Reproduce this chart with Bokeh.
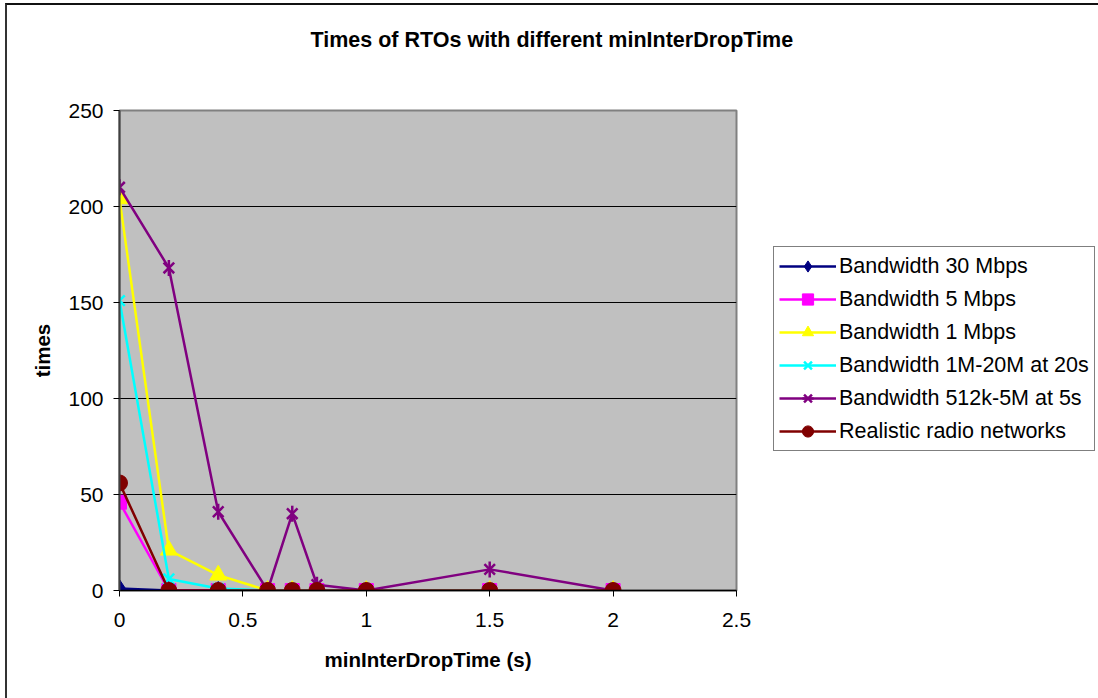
from bokeh.plotting import figure
from bokeh.models import (FixedTicker, NumeralTickFormatter, Legend, LegendItem,
                          Title, Range1d)
from bokeh.embed import file_html
from bokeh.resources import INLINE
import math

# minInterDropTime settings (s)
drop_time = [0, 0.2, 0.4, 0.6, 0.7, 0.8, 1, 1.5, 2]

# number of RTOs per scenario
bw_30m = [1, 0, 0, 0, 0, 0, 0, 0, 0]
bw_5m = [46, 0, 0, 0, 0, 0, 0, 0, 0]
bw_1m = [204, 21, 8, 0, 0, 0, 0, 0, 0]
bw_1m_20m = [151, 6, 1, 0, 0, 0, 0, 0, 0]
bw_512k_5m = [210, 168, 41, 0, 40, 3, 0, 11, 0]
radio = [56, 0, 0, 0, 0, 0, 0, 0, 0]

series_names = [
    "Bandwidth 30 Mbps",
    "Bandwidth 5 Mbps",
    "Bandwidth 1 Mbps",
    "Bandwidth 1M-20M at 20s",
    "Bandwidth 512k-5M at 5s",
    "Realistic radio networks",
]

x_ticks = [0, 0.5, 1, 1.5, 2, 2.5]
y_ticks = [0, 50, 100, 150, 200, 250]

FONT = "Liberation Sans"

p = figure(frame_width=617, frame_height=480, output_backend="svg",
           toolbar_location=None, title=None,
           x_range=Range1d(0, 2.5), y_range=Range1d(0, 250),
           min_border_left=112, min_border_right=0,
           min_border_top=105, min_border_bottom=108)

p.background_fill_color = "#C0C0C0"
p.border_fill_color = "white"
# chart-area frame: left and top edges only
p.styles = {
    "margin-left": "5px",
    "margin-top": "3px",
    "border-left": "2px solid #333",
    "border-top": "2px solid #111",
    "border-right": "none",
    "border-bottom": "none",
    "outline": "none",
    "box-shadow": "none",
}
p.outline_line_color = "#808080"
p.outline_line_width = 2

# axes
p.xaxis.ticker = FixedTicker(ticks=x_ticks)
p.yaxis.ticker = FixedTicker(ticks=y_ticks)
p.xaxis.formatter = NumeralTickFormatter(format="0.[0]")
for ax in (p.xaxis, p.yaxis):
    ax.major_label_text_font = FONT
    ax.major_label_text_font_size = "21px"
    ax.major_label_text_color = "black"
    ax.axis_label_text_font = FONT
    ax.axis_label_text_font_size = "20.5px"
    ax.axis_label_text_font_style = "bold"
    ax.axis_label_text_color = "black"
    ax.minor_tick_line_color = None
    ax.major_tick_in = 0
    ax.major_tick_out = 6
    ax.major_tick_line_color = "black"
    ax.major_tick_line_width = 1
p.xaxis.axis_line_color = "black"
p.xaxis.axis_line_width = 1.5
p.yaxis.axis_line_color = "#404040"
p.yaxis.axis_line_width = 2
p.xaxis.axis_label = "minInterDropTime (s)"
p.yaxis.axis_label = "times"
p.xaxis.major_label_standoff = 16
p.yaxis.major_label_standoff = 10
p.xaxis.axis_label_standoff = 18
p.yaxis.axis_label_standoff = 11

p.xgrid.grid_line_color = None
p.ygrid.grid_line_color = "black"
p.ygrid.grid_line_width = 1

LW = 2.5
items = []

r1 = p.line(drop_time, bw_30m, line_color="#000080", line_width=LW)
m1 = p.scatter(drop_time, bw_30m, marker="diamond", size=18, fill_color="#000080",
               line_color="#000080")
items.append(LegendItem(label=series_names[0], renderers=[r1, m1]))

r2 = p.line(drop_time, bw_5m, line_color="#FF00FF", line_width=LW)
m2 = p.scatter(drop_time, bw_5m, marker="square", size=14, fill_color="#FF00FF",
               line_color="#FF00FF")
items.append(LegendItem(label=series_names[1], renderers=[r2, m2]))

r3 = p.line(drop_time, bw_1m, line_color="#FFFF00", line_width=LW)
m3 = p.scatter(drop_time, bw_1m, marker="triangle", size=17, fill_color="#FFFF00",
               line_color="#FFFF00")
items.append(LegendItem(label=series_names[2], renderers=[r3, m3]))

r4 = p.line(drop_time, bw_1m_20m, line_color="#00FFFF", line_width=LW)
m4 = p.scatter(drop_time, bw_1m_20m, marker="x", size=15, line_color="#00FFFF",
               line_width=2.5)
items.append(LegendItem(label=series_names[3], renderers=[r4, m4]))

r5 = p.line(drop_time, bw_512k_5m, line_color="#800080", line_width=LW)
m5 = p.scatter(drop_time, bw_512k_5m, marker="x", size=15, line_color="#800080",
               line_width=2.5)
m5b = p.scatter(drop_time, bw_512k_5m, marker="dash", size=16, angle=math.pi / 2,
                line_color="#800080", line_width=2.5)
items.append(LegendItem(label=series_names[4], renderers=[r5, m5, m5b]))

r6 = p.line(drop_time, radio, line_color="#800000", line_width=LW)
m6 = p.scatter(drop_time, radio, marker="circle", size=16, fill_color="#800000",
               line_color="#800000")
items.append(LegendItem(label=series_names[5], renderers=[r6, m6]))

legend = Legend(items=items, location=(37, 139))
legend.label_text_font = FONT
legend.label_text_font_size = "21.5px"
legend.label_text_color = "black"
legend.glyph_width = 57
legend.glyph_height = 28
legend.label_height = 28
legend.spacing = 5
legend.padding = 5
legend.margin = 0
legend.label_standoff = 3
legend.border_line_color = "black"
legend.border_line_width = 1
legend.background_fill_color = "white"
legend.background_fill_alpha = 1
p.add_layout(legend, "right")

# blank band between the frame and the chart title
p.add_layout(Title(text=" ", text_font=FONT, text_font_size="21.5px",
                   text_font_style="bold", standoff=33), "above")
# chart title
p.add_layout(Title(text="Times of RTOs with different minInterDropTime",
                   text_font=FONT, text_font_size="21.5px", text_font_style="bold",
                   text_color="black", align="left", offset=191, standoff=0),
             "above")

open("out.html", "w").write(file_html(p, INLINE))
